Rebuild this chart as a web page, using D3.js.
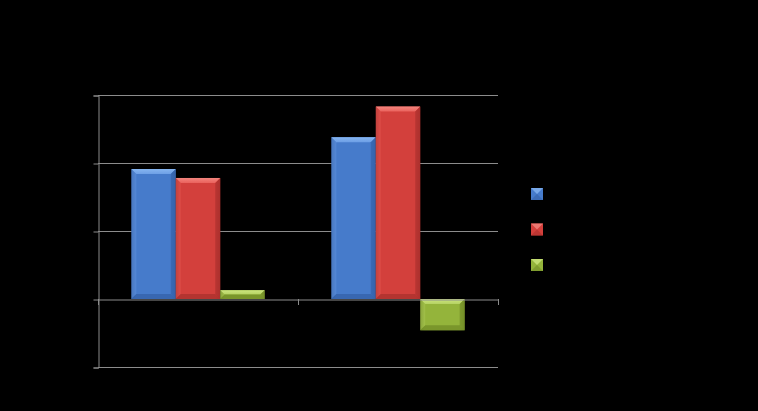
<!DOCTYPE html>
<html><head><meta charset="utf-8">
<script src="https://cdn.jsdelivr.net/npm/d3@7"></script>
<style>html,body{margin:0;padding:0;background:#000;}svg{display:block;}</style>
</head><body>
<svg id="chart" width="758" height="411"></svg>
<script>
const categories = ["Category 1", "Category 2"];
const seriesNames = ["Series 1", "Series 2", "Series 3"];
const series1 = [19.1, 23.8];
const series2 = [17.8, 28.3];
const series3 = [1.3, -4.6];
const tickValues = [-10, 0, 10, 20, 30];

const colors = [
  {base:"#467bcb", light:"#86b5f0", dark:"#3563aa", top:"#6d9fe6"},
  {base:"#d3403c", light:"#f3857e", dark:"#ad312d", top:"#ea625c"},
  {base:"#94b43b", light:"#cde680", dark:"#738e28", top:"#b5d262"}
];

(function(){
const svg = d3.select("#chart");
svg.append("rect").attr("width",758).attr("height",411).attr("fill","#000");

const pL = 98, pR = 498, pT = 95, pB = 367;
const y = d3.scaleLinear().domain([-10, 30]).range([pB, pT]);
const x0 = d3.scaleBand().domain(categories).range([pL, pR]).paddingInner(0).paddingOuter(0);
const allSeries = [series1, series2, series3];
// Excel gap width 150%: 3 bars plus 1.5 bar widths of gap per category
const barW = x0.bandwidth() / 4.5;
const x1 = d3.scaleBand().domain(seriesNames).range([barW*0.75, barW*3.75]).padding(0);

const defs = svg.append("defs");
colors.forEach((c,i)=>{
  const g = defs.append("linearGradient").attr("id","hg"+i).attr("x1","0").attr("x2","1").attr("y1","0").attr("y2","0");
  g.append("stop").attr("offset","0").attr("stop-color",c.dark);
  g.append("stop").attr("offset","0.1").attr("stop-color",c.base);
  g.append("stop").attr("offset","0.9").attr("stop-color",c.base);
  g.append("stop").attr("offset","1").attr("stop-color",c.dark);
  const t = defs.append("linearGradient").attr("id","tg"+i).attr("x1","0").attr("x2","0").attr("y1","0").attr("y2","1");
  t.append("stop").attr("offset","0").attr("stop-color",c.light);
  t.append("stop").attr("offset","1").attr("stop-color",c.top);
});

// gridlines
svg.append("g").selectAll("line").data(tickValues.filter(v=>v!==0)).join("line")
  .attr("x1", pL).attr("x2", pR)
  .attr("y1", d=>y(d)+0.5).attr("y2", d=>y(d)+0.5)
  .attr("stroke","#8c8c8c").attr("stroke-width",1);

// y axis
const yAxis = d3.axisLeft(y).tickValues(tickValues).tickSize(5).tickPadding(4);
const yg = svg.append("g").attr("transform",`translate(${pL+0.5},0.5)`).call(yAxis);
yg.select(".domain").attr("stroke","#8c8c8c");
yg.selectAll(".tick line").attr("stroke","#8c8c8c");
yg.selectAll("text").attr("fill","#000").attr("font-family","Liberation Sans, Arial, sans-serif").attr("font-size",12);

// x axis category labels placed below the plot (low position)
const xLab = d3.axisBottom(x0).tickSize(0).tickPadding(8);
const xl = svg.append("g").attr("transform",`translate(0,${pB})`).call(xLab);
xl.select(".domain").remove();
xl.selectAll("text").attr("fill","#000").attr("font-family","Liberation Sans, Arial, sans-serif").attr("font-size",12);

// bars
const data = [];
categories.forEach((c,ci)=>{
  allSeries.forEach((s,si)=>{
    data.push({cat:c, series:seriesNames[si], si, value:s[ci]});
  });
});

const bars = svg.append("g").selectAll("g.bar").data(data).join("g").attr("class","bar");
bars.each(function(d){
  const g = d3.select(this);
  const bx = x0(d.cat) + x1(d.series);
  const bw = x1.bandwidth();
  const y0 = y(0), yv = y(d.value);
  const yt = Math.min(y0, yv), h = Math.abs(y0 - yv);
  const c = colors[d.si];
  g.append("rect").attr("x",bx).attr("y",yt).attr("width",bw).attr("height",h).attr("fill",`url(#hg${d.si})`);
  const bev = Math.min(5, h/2);
  g.append("path").attr("d",`M${bx},${yt} L${bx+bw},${yt} L${bx+bw-bev},${yt+bev} L${bx+bev},${yt+bev} Z`).attr("fill",`url(#tg${d.si})`);
  g.append("path").attr("d",`M${bx},${yt} L${bx+bev},${yt+bev} L${bx+bev},${yt+h-bev} L${bx},${yt+h} Z`).attr("fill",c.top).attr("opacity",0.35);
  g.append("path").attr("d",`M${bx+bw},${yt} L${bx+bw-bev},${yt+bev} L${bx+bw-bev},${yt+h-bev} L${bx+bw},${yt+h} Z`).attr("fill",c.dark).attr("opacity",0.7);
  g.append("path").attr("d",`M${bx},${yt+h} L${bx+bev},${yt+h-bev} L${bx+bw-bev},${yt+h-bev} L${bx+bw},${yt+h} Z`).attr("fill",c.dark).attr("opacity",0.8);
});

// x axis line at zero
const xAxis = d3.axisBottom(x0).tickSize(0).tickFormat("");
const xg = svg.append("g").attr("transform",`translate(0,${y(0)+0.5})`).call(xAxis);
xg.select(".domain").attr("stroke","#8c8c8c");
const bounds = [pL, pL + x0.bandwidth(), pR];
svg.append("g").selectAll("line").data(bounds).join("line")
  .attr("x1",d=>Math.round(d)+0.5).attr("x2",d=>Math.round(d)+0.5)
  .attr("y1",y(0)).attr("y2",y(0)+6)
  .attr("stroke","#8c8c8c");

// legend
const legend = svg.append("g").attr("transform","translate(531,188)");
const li = legend.selectAll("g").data(seriesNames).join("g").attr("transform",(d,i)=>`translate(0,${i*35.5})`);
li.each(function(d,i){
  const g = d3.select(this);
  const c = colors[i], s = 12;
  g.append("rect").attr("width",s).attr("height",s).attr("fill",c.base);
  g.append("path").attr("d",`M0,0 L${s},0 L${s/2},${s/2} Z`).attr("fill",c.light).attr("opacity",0.8);
  g.append("path").attr("d",`M0,${s} L${s},${s} L${s/2},${s/2} Z`).attr("fill",c.dark).attr("opacity",0.6);
  g.append("text").attr("x",s+6).attr("y",s/2).attr("dy","0.35em").text(d)
    .attr("fill","#000").attr("font-family","Liberation Sans, Arial, sans-serif").attr("font-size",12);
});
})();
</script>
</body></html>
